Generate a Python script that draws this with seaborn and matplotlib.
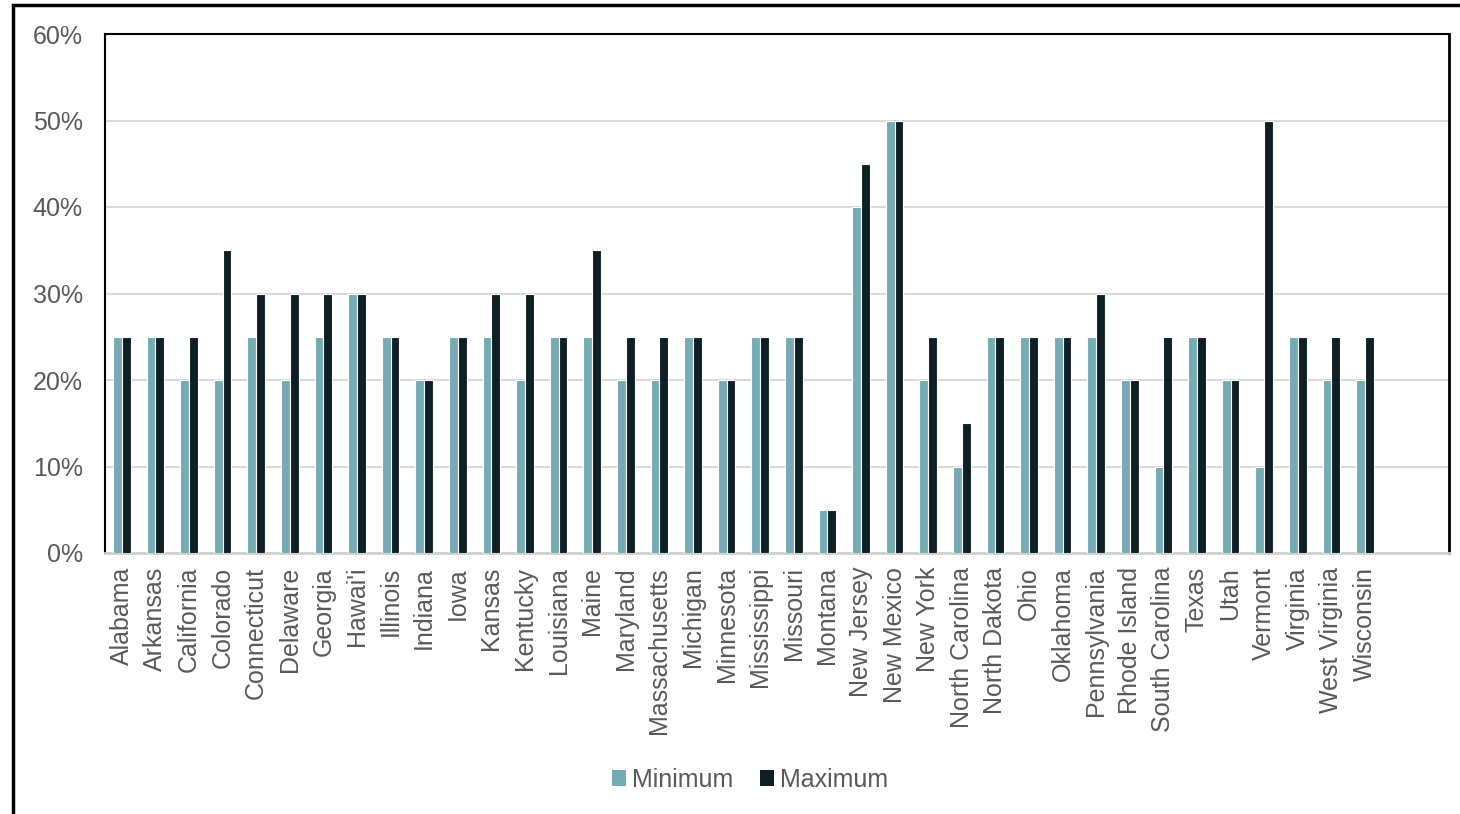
import matplotlib
matplotlib.use("Agg")
import matplotlib.pyplot as plt
import matplotlib.patches as mpatches
import seaborn as sns
import pandas as pd

states = ["Alabama", "Arkansas", "California", "Colorado", "Connecticut", "Delaware",
          "Georgia", "Hawai'i", "Illinois", "Indiana", "Iowa", "Kansas", "Kentucky",
          "Louisiana", "Maine", "Maryland", "Massachusetts", "Michigan", "Minnesota",
          "Mississippi", "Missouri", "Montana", "New Jersey", "New Mexico", "New York",
          "North Carolina", "North Dakota", "Ohio", "Oklahoma", "Pennsylvania",
          "Rhode Island", "South Carolina", "Texas", "Utah", "Vermont", "Virginia",
          "West Virginia", "Wisconsin"]
minimum = [25, 25, 20, 20, 25, 20, 25, 30, 25, 20, 25, 25, 20, 25, 25, 20, 20, 25, 20,
           25, 25, 5, 40, 50, 20, 10, 25, 25, 25, 25, 20, 10, 25, 20, 10, 25, 20, 20]
maximum = [25, 25, 25, 35, 30, 30, 30, 30, 25, 20, 25, 30, 30, 25, 35, 25, 25, 25, 20,
           25, 25, 5, 45, 50, 25, 15, 25, 25, 25, 30, 20, 25, 25, 20, 50, 25, 25, 25]
series = ["Minimum", "Maximum"]
y_ticks = [0, 10, 20, 30, 40, 50, 60]

df = pd.DataFrame({
    "State": states * 2,
    "Series": [series[0]] * len(states) + [series[1]] * len(states),
    "Value": minimum + maximum,
})

sns.set_theme(style="white")
plt.rcParams["font.family"] = ["Liberation Sans", "DejaVu Sans"]
text_color = "#595959"
fs = 18

fig = plt.figure(figsize=(14.6, 8.14), dpi=100)
ax = fig.add_axes([105 / 1460, (814 - 553) / 814, (1449 - 105) / 1460, (553 - 34) / 814])

palette = {"Minimum": "#74ABB4", "Maximum": "#0E1F25"}
sns.barplot(data=df, x="State", y="Value", hue="Series", order=states,
            hue_order=series, palette=palette, width=0.52, ax=ax,
            edgecolor="white", linewidth=0.8, saturation=1, zorder=3)

ax.set_xlim(-0.5, 39.5)
ax.set_ylim(0, 60)
ax.set_yticks(y_ticks)
ax.set_yticklabels([f"{v}%" for v in y_ticks], fontsize=fs, color=text_color)
ax.set_xticks(range(len(states)))
ax.set_xticklabels(states, rotation=90, fontsize=fs, color=text_color)
ax.tick_params(axis="y", length=0, pad=16)
ax.tick_params(axis="x", length=0, pad=10)
ax.set_xlabel("")
ax.set_ylabel("")

ax.yaxis.grid(True, color="#D9D9D9", linewidth=1.5, zorder=0)
ax.set_axisbelow(True)

for side in ["left", "top", "right"]:
    ax.spines[side].set_color("#000000")
    ax.spines[side].set_linewidth(1.5)
    ax.spines[side].set_visible(True)
ax.spines["right"].set_linewidth(2)
ax.spines["bottom"].set_color("#D0D0D0")
ax.spines["bottom"].set_linewidth(2)
ax.spines["bottom"].set_visible(True)

sns.move_legend(ax, "center", bbox_to_anchor=((750 - 105) / 1344, (553 - 780) / 519),
                ncol=2, frameon=False, title=None, fontsize=fs,
                handlelength=0.57, handleheight=0.57, handletextpad=0.25,
                columnspacing=1.05)
for t in ax.get_legend().get_texts():
    t.set_color(text_color)
for h in ax.get_legend().legend_handles:
    h.set_edgecolor("none")

# outer frame (cut by image edges on right and bottom)
frame = mpatches.Rectangle((13 / 1460, -0.1), 1.2, 1 - 5 / 814 + 0.1,
                           transform=fig.transFigure, fill=False,
                           edgecolor="black", linewidth=2.5, clip_on=False)
fig.patches.append(frame)

fig.savefig("out.png", dpi=100)
